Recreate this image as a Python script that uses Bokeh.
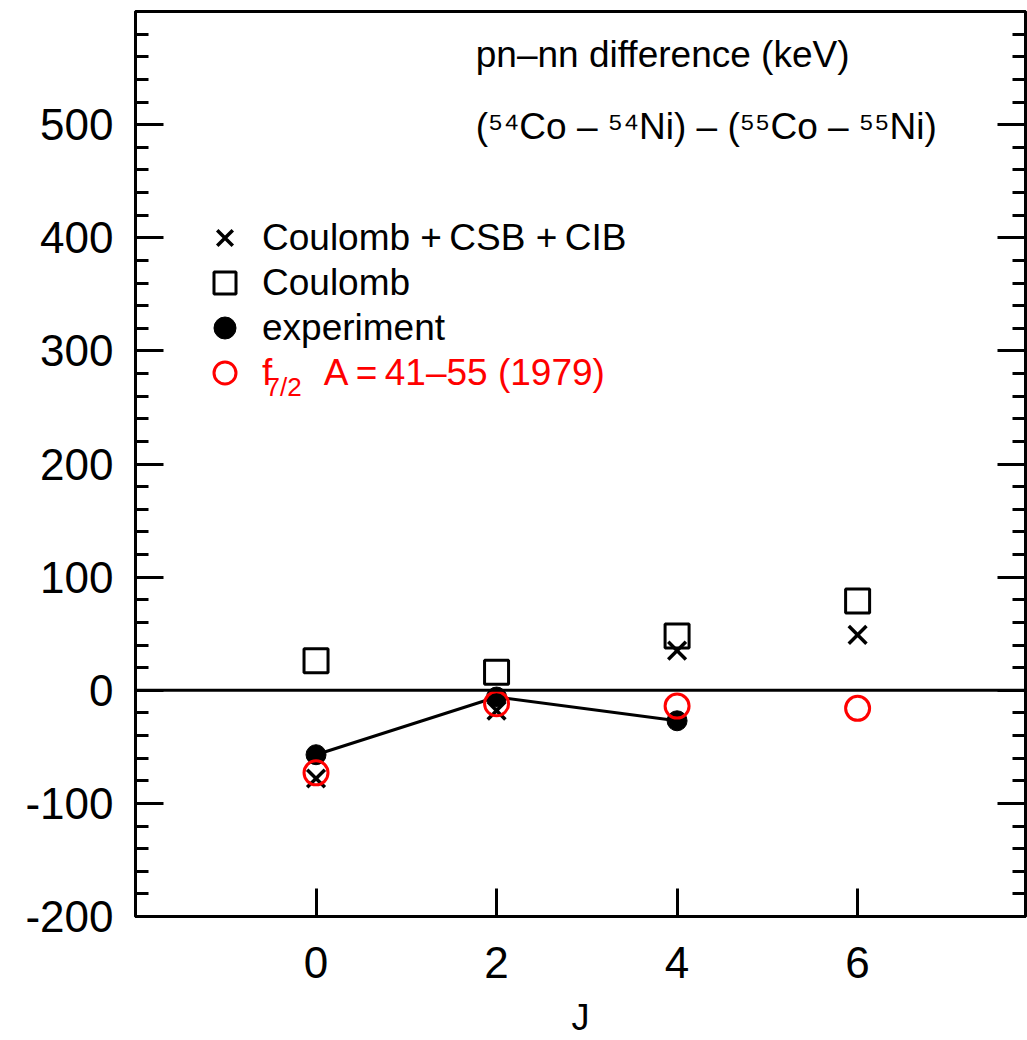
from bokeh.plotting import figure
from bokeh.models import (Range1d, FixedTicker, LinearAxis, Span, Legend, LegendItem, Label)
from bokeh.embed import file_html
from bokeh.resources import INLINE

# ---- data ----
J = [0, 2, 4, 6]
coulomb = [26, 16, 48, 79]
coulomb_csb_cib = [-78, -18, 35, 49]
J_exp = [0, 2, 4]
experiment = [-57, -6, -27]
f72_1979 = [-73, -12, -14, -16]

y_major = [-200, -100, 0, 100, 200, 300, 400, 500]
y_minor = list(range(-200, 601, 20))
x_major = [0, 2, 4, 6]

FONT = "Liberation Sans"
RED = "#ff0000"

p = figure(width=1027, height=1040,
           x_range=Range1d(-2, 7.86), y_range=Range1d(-200, 600),
           output_backend="svg", toolbar_location=None,
           x_axis_location=None, y_axis_location=None,
           min_border_left=135, min_border_right=2,
           min_border_top=11, min_border_bottom=124)
p.grid.visible = False
p.outline_line_color = "black"
p.outline_line_width = 3
p.background_fill_color = "white"
p.border_fill_color = "white"

def style_axis(ax):
    ax.axis_line_width = 3
    ax.major_tick_line_width = 3
    ax.minor_tick_line_width = 3
    ax.major_tick_in = 28
    ax.major_tick_out = 0
    ax.minor_tick_in = 13
    ax.minor_tick_out = 0
    ax.major_label_text_font = FONT
    ax.major_label_text_font_size = "44px"
    ax.major_label_text_color = "black"

left = LinearAxis(ticker=FixedTicker(ticks=y_major, minor_ticks=y_minor))
style_axis(left)
left.major_label_standoff = 22
left.major_label_overrides = {t: str(t) for t in y_major}
p.add_layout(left, "left")

right = LinearAxis(ticker=FixedTicker(ticks=y_major, minor_ticks=y_minor))
style_axis(right)
right.major_label_overrides = {t: "" for t in y_major}
right.major_label_standoff = 0
p.add_layout(right, "right")

bottom = LinearAxis(ticker=FixedTicker(ticks=x_major, minor_ticks=[]))
style_axis(bottom)
bottom.major_label_standoff = 30
bottom.axis_label = "J"
bottom.axis_label_text_font = FONT
bottom.axis_label_text_font_style = "normal"
bottom.axis_label_text_font_size = "36px"
bottom.axis_label_text_color = "black"
bottom.axis_label_standoff = 16
p.add_layout(bottom, "below")

# zero line
p.add_layout(Span(location=0, dimension="width", line_color="black", line_width=3))

r_sq = p.scatter(J, coulomb, marker="square", size=24, fill_color=None,
                 line_color="black", line_width=3)
r_x = p.scatter(J, coulomb_csb_cib, marker="x", size=25, line_color="black", line_width=3.5)
p.line(J_exp, experiment, line_color="black", line_width=3)
r_exp = p.scatter(J_exp, experiment, marker="circle", size=20, fill_color="black",
                  line_color="black", line_width=1)
r_f = p.scatter(J, f72_1979, marker="circle", size=24, fill_color=None,
                line_color=RED, line_width=3)

def make_legend(label, renderer, loc, color):
    lg = Legend(items=[LegendItem(label=label, renderers=[renderer])],
                location=loc, orientation="vertical")
    lg.background_fill_alpha = 0
    lg.border_line_alpha = 0
    lg.padding = 0
    lg.margin = 0
    lg.spacing = 0
    lg.glyph_width = 55
    lg.glyph_height = 55
    lg.label_height = 40
    lg.label_standoff = 10
    lg.label_text_font = FONT
    lg.label_text_font_size = "37px"
    lg.label_text_color = color
    lg.label_text_baseline = "middle"
    return lg

p.add_layout(make_legend("Coulomb +\u2009CSB +\u2009CIB", r_x, (62, 651), "black"))
p.add_layout(make_legend("Coulomb", r_sq, (62, 606), "black"))
p.add_layout(make_legend("experiment", r_exp, (62, 561), "black"))
p.add_layout(make_legend("f\u00a0\u00a0\u00a0\u00a0\u00a0A\u2009=\u200941\u201355 (1979)",
                         r_f, (62, 516), RED))

# subscript 7/2
p.add_layout(Label(x=-0.56, y=268, text="7/2", text_font=FONT, text_font_size="26px",
                   text_color=RED, text_baseline="alphabetic"))

# annotation
p.add_layout(Label(x=1.77, y=562, text="pn\u2013nn difference (keV)", text_font=FONT,
                   text_font_size="37px", text_color="black", text_baseline="alphabetic"))
p.add_layout(Label(x=1.77, y=498,
                   text="(\u2075\u2074Co \u2013 \u2075\u2074Ni) \u2013 (\u2075\u2075Co \u2013 \u2075\u2075Ni)",
                   text_font=FONT, text_font_size="37px", text_color="black",
                   text_baseline="alphabetic"))

open("out.html", "w").write(file_html(p, INLINE))
